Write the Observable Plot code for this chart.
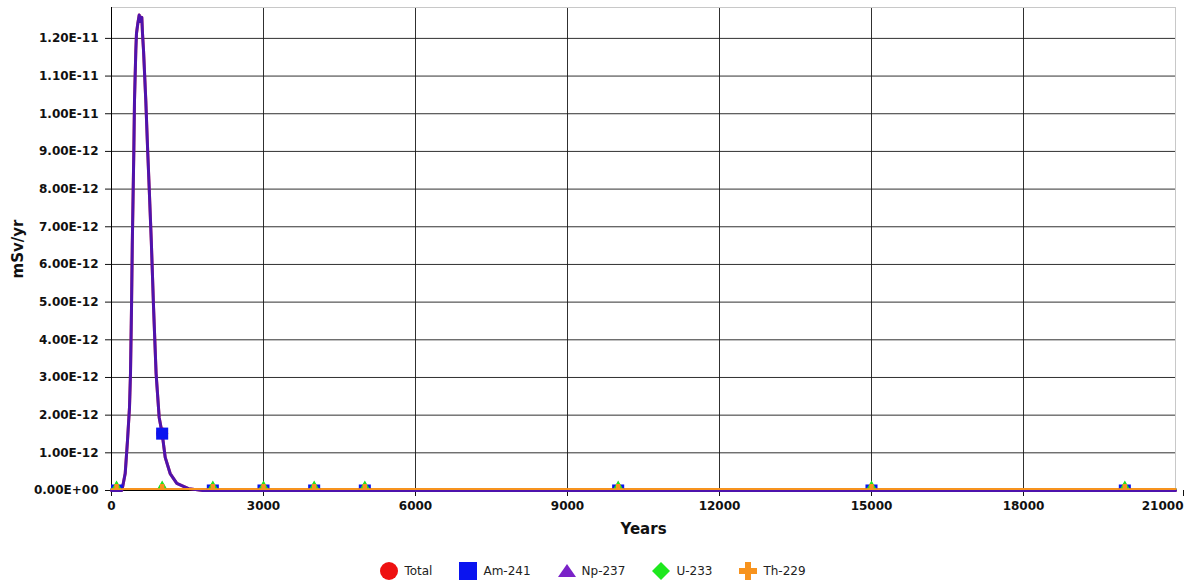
<!DOCTYPE html>
<html>
<head>
<meta charset="utf-8">
<script src="https://cdn.jsdelivr.net/npm/d3@7"></script>
<script src="https://cdn.jsdelivr.net/npm/@observablehq/plot@0.6"></script>
<style>
  body { margin: 0; background: #fff; }
  #chart svg { display: block; }
  #chart [aria-label="x-axis label"] text, #chart [aria-label="x-axis label"] { font-size: 15px; font-weight: bold; }
  #chart [aria-label="y-axis label"] text, #chart [aria-label="y-axis label"] { font-size: 15px; font-weight: bold; }
  #legend { display: flex; justify-content: center; align-items: center; gap: 27px; font: 12px "DejaVu Sans", sans-serif; color: #222; margin-top: 16px; height: 20px; }
  #legend span { display: flex; align-items: center; gap: 6px; }
</style>
</head>
<body>
<div id="chart"></div>
<div id="legend"></div>
<script>
// Curve (Total and Am-241 overlap), years and mSv/yr
const years = [0, 200, 217, 270, 316, 355, 375, 395, 410, 440, 454, 480, 493, 520, 547, 570, 598, 612, 632, 677, 716, 745, 785, 830, 880, 941, 1000, 1060, 1158, 1289, 1520, 1800, 2000, 3000, 4000, 5000, 10000, 15000, 20000, 21000];
const totalVals = [0, 0, 0.08e-12, 0.45e-12, 1.33e-12, 2.2e-12, 3.11e-12, 4.86e-12, 6.5e-12, 8.95e-12, 10.35e-12, 11.68e-12, 12.13e-12, 12.4e-12, 12.62e-12, 12.45e-12, 12.56e-12, 12.13e-12, 11.68e-12, 10.35e-12, 8.95e-12, 8.0e-12, 6.64e-12, 4.86e-12, 3.11e-12, 1.94e-12, 1.51e-12, 0.88e-12, 0.45e-12, 0.19e-12, 0.05e-12, 0, 0, 0, 0, 0, 0, 0, 0, 0];
const am241Vals = [0, 0, 0.08e-12, 0.45e-12, 1.33e-12, 2.2e-12, 3.11e-12, 4.86e-12, 6.5e-12, 8.95e-12, 10.35e-12, 11.68e-12, 12.13e-12, 12.4e-12, 12.62e-12, 12.45e-12, 12.56e-12, 12.13e-12, 11.68e-12, 10.35e-12, 8.95e-12, 8.0e-12, 6.64e-12, 4.86e-12, 3.11e-12, 1.94e-12, 1.51e-12, 0.88e-12, 0.45e-12, 0.19e-12, 0.05e-12, 0, 0, 0, 0, 0, 0, 0, 0, 0];
// Flat series (near zero on this scale)
const flatYears = [0, 21000];
const np237Vals = [0, 0];
const u233Vals = [0, 0];
const th229Vals = [0, 0];
// Marker points
const markerYears = [100, 1000, 2000, 3000, 4000, 5000, 10000, 15000, 20000];
const totalMarks = [0, 1.51e-12, 0, 0, 0, 0, 0, 0, 0];
const am241Marks = [0, 1.51e-12, 0, 0, 0, 0, 0, 0, 0];
const np237Marks = [0, 0, 0, 0, 0, 0, 0, 0, 0];
const u233Marks = [0, 0, 0, 0, 0, 0, 0, 0, 0];
const th229Marks = [0, 0, 0, 0, 0, 0, 0, 0, 0];
// Ticks
const xTicks = [0, 3000, 6000, 9000, 12000, 15000, 18000, 21000];
const yTicks = [0, 1e-12, 2e-12, 3e-12, 4e-12, 5e-12, 6e-12, 7e-12, 8e-12, 9e-12, 10e-12, 11e-12, 12e-12];
const series = ["Total", "Am-241", "Np-237", "U-233", "Th-229"];
const colors = ["#ee1111", "#0a14f0", "#7a22c8", "#1ee81e", "#f7931e"];

const yMax = 1.282e-11;
const xMax = 21000;

const fmtY = d => {
  const [m, e] = d.toExponential(2).split("e");
  return m + "E" + e[0] + e.slice(1).padStart(2, "0");
};

const pts = (xs, ys) => xs.map((x, i) => ({x, y: ys[i]}));

const font = "DejaVu Sans, sans-serif";

const chart = Plot.plot({
  width: 1186,
  height: 545,
  marginLeft: 111,
  marginRight: 11,
  marginTop: 7,
  marginBottom: 55,
  style: {fontFamily: font, fontSize: "12px", fontWeight: "bold", color: "#111", background: "#fff"},
  x: {domain: [0, xMax]},
  y: {domain: [0, yMax]},
  marks: [
    Plot.gridY(yTicks.slice(1), {stroke: "#1a1a1a", strokeOpacity: 0.9}),
    Plot.gridX(xTicks.slice(1, -1), {stroke: "#1a1a1a", strokeOpacity: 0.9}),
    Plot.ruleY([yMax], {stroke: "#c8c8c8"}),
    Plot.ruleX([xMax], {stroke: "#c8c8c8"}),
    Plot.axisY(yTicks, {tickFormat: fmtY, tickSize: 6, tickPadding: 7, label: "mSv/yr", labelAnchor: "center", labelArrow: false, labelOffset: 99}),
    Plot.axisX(xTicks.slice(0, -1), {tickFormat: d => String(d), tickSize: 6, tickPadding: 5, label: "Years", labelAnchor: "center", labelArrow: false, labelOffset: 43}),
    Plot.axisX(xTicks.slice(-1), {tickFormat: d => String(d), tickSize: 6, tickPadding: 5, textAnchor: "end", dx: 8, label: null}),
    Plot.ruleY([0], {stroke: "#000"}),
    Plot.ruleX([0], {stroke: "#000"}),
    Plot.line(pts(years, totalVals), {x: "x", y: "y", stroke: colors[0], strokeWidth: 3}),
    Plot.line(pts(years, am241Vals), {x: "x", y: "y", stroke: colors[1], strokeWidth: 3, strokeOpacity: 0.7}),
    Plot.line(pts(flatYears, np237Vals), {x: "x", y: "y", dy: -1.5, stroke: colors[2], strokeWidth: 2}),
    Plot.line(pts(flatYears, u233Vals), {x: "x", y: "y", dy: -1.5, stroke: colors[3], strokeWidth: 2}),
    Plot.line(pts(flatYears, th229Vals), {x: "x", y: "y", dy: -1.5, stroke: colors[4], strokeWidth: 2}),
    Plot.dot(pts(markerYears, totalMarks), {x: "x", y: "y", symbol: "circle", r: 6, fill: colors[0], clip: true}),
    Plot.dot(pts(markerYears, am241Marks), {x: "x", y: "y", symbol: "square", r: 6.8, fill: colors[1], clip: true}),
    Plot.dot(pts(markerYears, np237Marks), {x: "x", y: "y", symbol: "triangle", r: 6, fill: colors[2], clip: true}),
    Plot.dot(pts(markerYears, u233Marks), {x: "x", y: "y", symbol: "diamond", r: 6, fill: colors[3], clip: true}),
    Plot.dot(pts(markerYears, th229Marks), {x: "x", y: "y", symbol: "cross", r: 5.5, fill: colors[4], clip: true})
  ]
});
document.getElementById("chart").append(chart);

// Legend
const symPaths = [
  '<circle cx="9" cy="9" r="9"/>',
  '<rect x="0" y="0" width="18" height="18"/>',
  '<polygon points="9,2 18,15 0,15"/>',
  '<polygon points="9,0 18,9 9,18 0,9"/>',
  '<polygon points="6,0 12,0 12,6 18,6 18,12 12,12 12,18 6,18 6,12 0,12 0,6 6,6"/>'
];
const legend = document.getElementById("legend");
series.forEach((name, i) => {
  const s = document.createElement("span");
  s.innerHTML = `<svg width="18" height="18" viewBox="0 0 18 18" style="fill:${colors[i]}">${symPaths[i]}</svg>${name}`;
  legend.append(s);
});
</script>
</body>
</html>
